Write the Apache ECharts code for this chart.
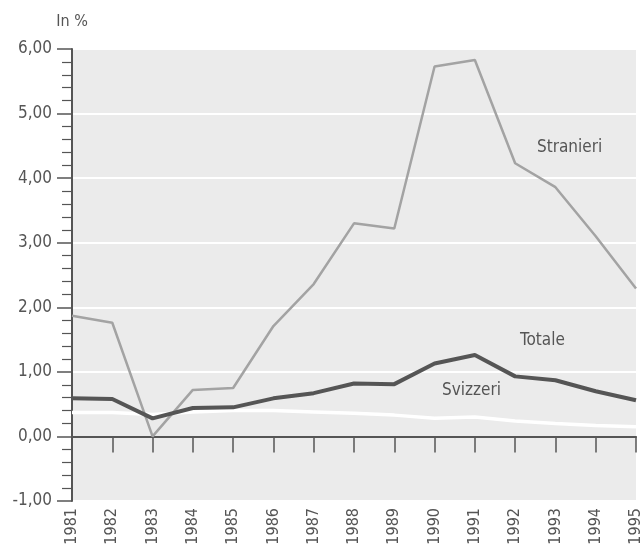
<!DOCTYPE html>
<html><head><meta charset="utf-8">
<script src="https://cdn.jsdelivr.net/npm/echarts@6/dist/echarts.min.js"></script>
<style>html,body{margin:0;padding:0;background:#fff}#c{width:643px;height:548px}</style>
</head><body><div id="c"></div>
<script>
const years = ['1981','1982','1983','1984','1985','1986','1987','1988','1989','1990','1991','1992','1993','1994','1995'];
const stranieri = [1.87,1.76,0.0,0.72,0.75,1.71,2.36,3.30,3.22,5.73,5.83,4.23,3.86,3.10,2.29];
const totale = [0.59,0.58,0.28,0.44,0.45,0.59,0.67,0.82,0.81,1.13,1.26,0.93,0.87,0.70,0.56];
const svizzeri = [0.37,0.37,0.34,0.38,0.40,0.40,0.38,0.36,0.33,0.28,0.30,0.24,0.20,0.17,0.15];
const yTicks = [-1,0,1,2,3,4,5,6];
const FONT = '"DejaVu Sans Condensed", "Liberation Sans Narrow", sans-serif';
const chart = echarts.init(document.getElementById('c'), null, {renderer:'canvas'});
chart.setOption({
  animation:false,
  backgroundColor:'#ffffff',
  grid:{left:72,right:7,top:49,bottom:47,show:true,backgroundColor:'#ebebeb',borderWidth:0,
        containLabel:false,outerBoundsMode:'none'},
  xAxis:{
    type:'category', data:years, boundaryGap:false,
    axisLine:{onZero:true,lineStyle:{color:'#555',width:2}},
    axisTick:{length:16,lineStyle:{color:'#555',width:1.5}},
    axisLabel:{rotate:90,margin:7,color:'#555',fontFamily:FONT,fontSize:16},
    splitLine:{show:false}
  },
  yAxis:{
    type:'value', min:yTicks[0], max:yTicks[yTicks.length-1], interval:1,
    name:'In %', nameLocation:'end', nameGap:19,
    nameTextStyle:{color:'#555',fontFamily:FONT,fontSize:16,align:'center'},
    axisLine:{show:true,onZero:false,lineStyle:{color:'#555',width:2}},
    axisTick:{show:true,length:15,lineStyle:{color:'#555',width:1.5}},
    minorTick:{show:true,splitNumber:5,length:10,lineStyle:{color:'#555',width:1.2}},
    axisLabel:{margin:20,color:'#555',fontFamily:FONT,fontSize:17,
      formatter:v=>v.toFixed(2).replace('.',',')},
    splitLine:{show:true,lineStyle:{color:'#ffffff',width:2}}
  },
  series:[
    {name:'Svizzeri',type:'line',data:svizzeri,symbol:'none',z:2,lineStyle:{color:'#ffffff',width:3.5}},
    {name:'Stranieri',type:'line',data:stranieri,symbol:'none',z:3,lineStyle:{color:'#a3a3a3',width:2.5}},
    {name:'Totale',type:'line',data:totale,symbol:'none',z:4,lineStyle:{color:'#555555',width:4}}
  ],
  graphic:[
    {type:'text',left:537,top:139,style:{text:'Stranieri',fill:'#555',font:'17px '+FONT}},
    {type:'text',left:520,top:332,style:{text:'Totale',fill:'#555',font:'17px '+FONT}},
    {type:'text',left:442,top:382,style:{text:'Svizzeri',fill:'#555',font:'17px '+FONT}}
  ]
});
</script></body></html>
